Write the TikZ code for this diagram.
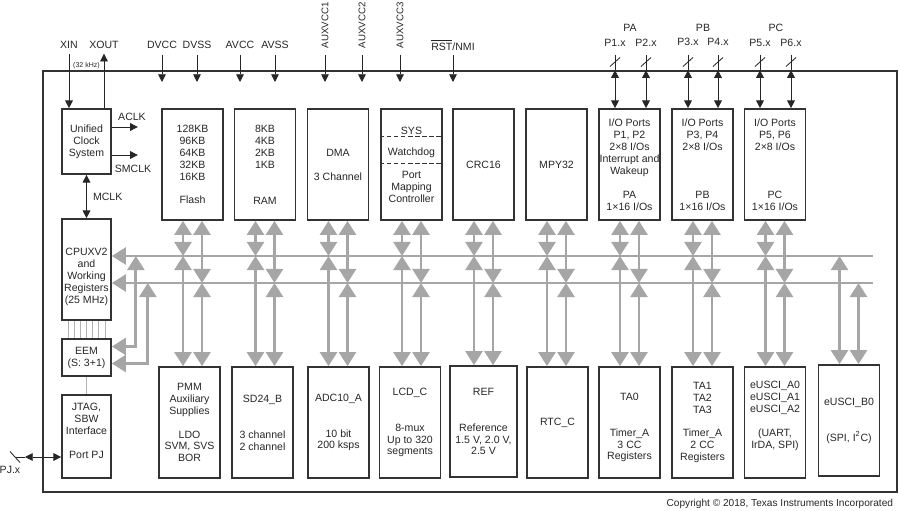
\documentclass[tikz,border=0pt]{standalone}
\usepackage{fontspec}
\setmainfont{Liberation Sans}
\usetikzlibrary{arrows.meta,calc}
\definecolor{busgray}{RGB}{166,166,166}
\newcommand\unitpx{0.025cm}
\begin{document}
\begin{tikzpicture}[x=0.025cm,y=-0.025cm,font=\fontsize{7.5}{8.5}\selectfont,text=black!85,
  blk/.style={draw=black!80,line width=1.2pt,minimum width=61*\unitpx,minimum height=111*\unitpx,inner sep=0pt,align=center},
  pin/.style={black!85,line width=0.6pt},
  pinarr/.style={pin,-{Triangle[length=5.5pt,width=5.5pt]}},
  pinboth/.style={pin,{Triangle[length=5.5pt,width=5.5pt]}-{Triangle[length=5.5pt,width=5.5pt]}},
  gbus/.style={busgray,line width=2.1pt},
  garr/.style={gbus,{Triangle[length=10pt,width=12pt]}-{Triangle[length=10pt,width=12pt]}},
  thinline/.style={black!30,line width=0.5pt}]
\useasboundingbox (0,0) rectangle (900,511);
\pgfmathsetmacro{\off}{9.5}
\node[draw=black!80,line width=1.2pt,minimum width=854*\unitpx,minimum height=421*\unitpx] (chip) at (470,281.5) {};
% clock, cpu, debug
\node[blk,minimum width=49*\unitpx,minimum height=65*\unitpx] (ucs) at (86.5,141.5) {Unified\\Clock\\System};
\node[blk,minimum width=49*\unitpx,minimum height=101*\unitpx] (cpu) at (86.5,269.5) {};
\node[align=center] (cputxt) at (86.5,277) {CPUXV2\\and\\Working\\Registers\\(25 MHz)};
\node[blk,minimum width=49*\unitpx,minimum height=37*\unitpx] (eem) at (86.5,357.5) {EEM\\(S: 3+1)};
\node[blk,minimum width=49*\unitpx,minimum height=83*\unitpx] (jtag) at (86.5,436.5) {};
\node[align=center] (jtagtxt) at (86.5,431) {JTAG,\\SBW\\Interface\\[8.5pt]Port PJ};
% upper row
\node[blk] (flash) at (192.5,164.5) {128KB\\96KB\\64KB\\32KB\\16KB\\[8.5pt]Flash};
\node[blk] (ram) at (265,164.5) {8KB\\4KB\\2KB\\1KB\\[17pt]RAM};
\node[blk] (dma) at (338,164.5) {DMA\\[8.5pt]3 Channel};
\node[blk] (sys) at (411.5,164.5) {SYS\\[7pt]Watchdog\\[7.5pt]Port\\Mapping\\Controller};
\draw[black!80,dash pattern=on 3pt off 2pt] ($(sys.west)+(0,-28.5)$) -- ($(sys.east)+(0,-28.5)$);
\draw[black!80,dash pattern=on 3pt off 2pt] ($(sys.west)+(0,-1.5)$) -- ($(sys.east)+(0,-1.5)$);
\node[blk] (crc) at (483.5,164.5) {CRC16};
\node[blk] (mpy) at (556.5,164.5) {MPY32};
\node[blk] (pa) at (629.5,164.5) {I/O Ports\\P1, P2\\2×8 I/Os\\Interrupt and\\Wakeup\\[8.5pt]PA\\1×16 I/Os};
\node[blk] (pb) at (702.5,164.5) {I/O Ports\\P3, P4\\2×8 I/Os\\[25.5pt]PB\\1×16 I/Os};
\node[blk] (pc) at (775,164.5) {I/O Ports\\P5, P6\\2×8 I/Os\\[25.5pt]PC\\1×16 I/Os};
% lower row
\node[blk] (pmm) at (189.5,422.5) {PMM\\Auxiliary\\Supplies\\[8.5pt]LDO\\SVM, SVS\\BOR};
\node[blk] (sd) at (262.5,422.5) {SD24\_B\\[17pt]3 channel\\2 channel};
\node[blk] (adc) at (338.5,422.5) {ADC10\_A\\[17pt]10 bit\\200 ksps};
\node[blk] (lcd) at (410,422.5) {LCD\_C\\[17pt]8-mux\\Up to 320\\segments};
\node[blk,minimum width=67*\unitpx] (ref) at (483.5,421.5) {REF\\[17pt]Reference\\1.5 V, 2.0 V,\\2.5 V};
\node[blk] (rtc) at (557.5,422.5) {RTC\_C};
\node[blk] (tazero) at (629.5,422.5) {};
\node[align=center] (tazerotxt) at (629.5,427.5) {TA0\\[17pt]Timer\_A\\3 CC\\Registers};
\node[blk] (taone) at (702.5,422.5) {TA1\\TA2\\TA3\\[8.5pt]Timer\_A\\2 CC\\Registers};
\node[blk] (uscia) at (775,422.5) {};
\node[align=center] (usciatxt) at (775,416) {eUSCI\_A0\\eUSCI\_A1\\eUSCI\_A2\\[8.5pt](UART,\\IrDA, SPI)};
\node[blk] (uscib) at (849,420.5) {eUSCI\_B0\\[17pt](SPI, I\textsuperscript{2}C)};
% buses
\coordinate (busAend) at (873,256);
\coordinate (busBend) at (873,283);
\draw[gbus,{Triangle[length=10pt,width=12pt]}-] (cpu.east |- busAend) -- (busAend);
\draw[gbus,{Triangle[length=10pt,width=12pt]}-] (cpu.east |- busBend) -- (busBend);
\foreach \up/\dn in {flash/pmm,ram/sd,dma/adc,sys/lcd,crc/ref,mpy/rtc,pa/tazero,pb/taone,pc/uscia}{
  \path (\up.south) ++(-\off,0) coordinate (l) ++(2*\off,0) coordinate (r);
  \draw[garr] (l) -- (l |- busAend);
  \draw[garr] (r) -- (r |- busBend);
  \draw[garr] (l |- busAend) -- (l |- \dn.north);
  \draw[garr] (r |- busBend) -- (r |- \dn.north);
}
\path (uscib.north) ++(-\off,0) coordinate (l) ++(2*\off,0) coordinate (r);
\draw[garr] (l |- busAend) -- (l);
\draw[garr] (r |- busBend) -- (r);
\path (cpu.east |- busAend) ++(24,0) coordinate (tapA);
\path (cpu.east |- busBend) ++(36,0) coordinate (tapB);
\draw[garr] (tapA) |- ($(eem.east)+(0,-11)$);
\draw[garr] (tapB) |- ($(eem.east)+(0,6)$);
\foreach \i in {0,...,6}
  \draw[thinline] ($(cpu.south)+(-18.5+6.17*\i,0)$) -- ($(eem.north)+(-18.5+6.17*\i,0)$);
\draw[thinline] (eem) -- (jtag);
% clock signals
\node (xin) at (69,45) {XIN};
\node (xout) at (104,45) {XOUT};
\draw[pinarr] (xin) -- (xin |- ucs.north);
\draw[pinarr] (ucs.north -| xout) -- (xout);
\node[font=\fontsize{5}{6}\selectfont] (khz) at (86.5,65.5) {(32 kHz)};
\draw[pinarr] ($(ucs.east)+(0,-14.5)$) -- ++(26,0) coordinate (aclk);
\draw[pinarr] ($(ucs.east)+(0,13.5)$) -- ++(26,0) coordinate (smclk);
\node (aclklbl) at (132,117) {ACLK};
\node (smclklbl) at (133,169) {SMCLK};
\draw[pinboth] (ucs) -- (cpu) node[midway,right,xshift=1pt] (mclk) {MCLK};
% supply and reset pins
\coordinate (pinstart) at (0,55);
\coordinate (pinend) at (0,82);
\coordinate (slashrow) at (0,62);
\foreach \nm/\x/\txt in {dvcc/162/DVCC,dvss/197/DVSS,avcc/240/AVCC,avss/275/AVSS}{
  \node (\nm) at (\x,45) {\txt};
  \draw[pinarr] (\nm |- pinstart) -- (\nm |- pinend);
}
\foreach \n/\x in {1/325,2/362,3/400}{
  \node[rotate=90,anchor=west,inner sep=1pt,font=\fontsize{6.9}{8}\selectfont] (aux\n) at (\x,50) {AUXVCC\n};
  \draw[pinarr] (aux\n.west |- pinstart) -- (aux\n.west |- pinend);
}
\node (rst) at (453,45) {$\overline{\hbox{RST}}$/NMI};
\draw[pinarr] (rst |- pinstart) -- (rst |- pinend);
% port pins
\node (palbl) at (630,28) {PA};
\node (pblbl) at (703,28) {PB};
\node (pclbl) at (776,28) {PC};
\foreach \nm/\x/\y/\txt/\bx in {p1/615/43/P1.x/pa,p2/646/43/P2.x/pa,p3/688/41.5/P3.x/pb,p4/718/41.5/P4.x/pb,p5/760/43/P5.x/pc,p6/791/43/P6.x/pc}{
  \node (\nm) at (\x,\y) {\txt};
  \draw[pin] (\nm |- pinstart) -- (\nm |- chip.north);
  \draw[pinboth] (\nm |- chip.north) -- (\nm |- \bx.north);
  \draw[pin] (\nm |- slashrow) ++(-5,4.5) -- ++(10,-9);
}
\node (pjlbl) at (10,470) {PJ.x};
\coordinate (pjtip) at (25,457);
\draw[pinboth] (pjtip) -- (jtag.west |- pjtip);
\draw[pin] (pjtip) -- ++(-10,0) coordinate (pjslash);
\draw[pin] (pjslash) ++(-5,-5.5) -- ++(10,11);
\node[anchor=east,font=\fontsize{7.2}{8.5}\selectfont] (copyr) at (898,504) {Copyright \textcopyright\ 2018, Texas Instruments Incorporated};
\end{tikzpicture}
\end{document}
